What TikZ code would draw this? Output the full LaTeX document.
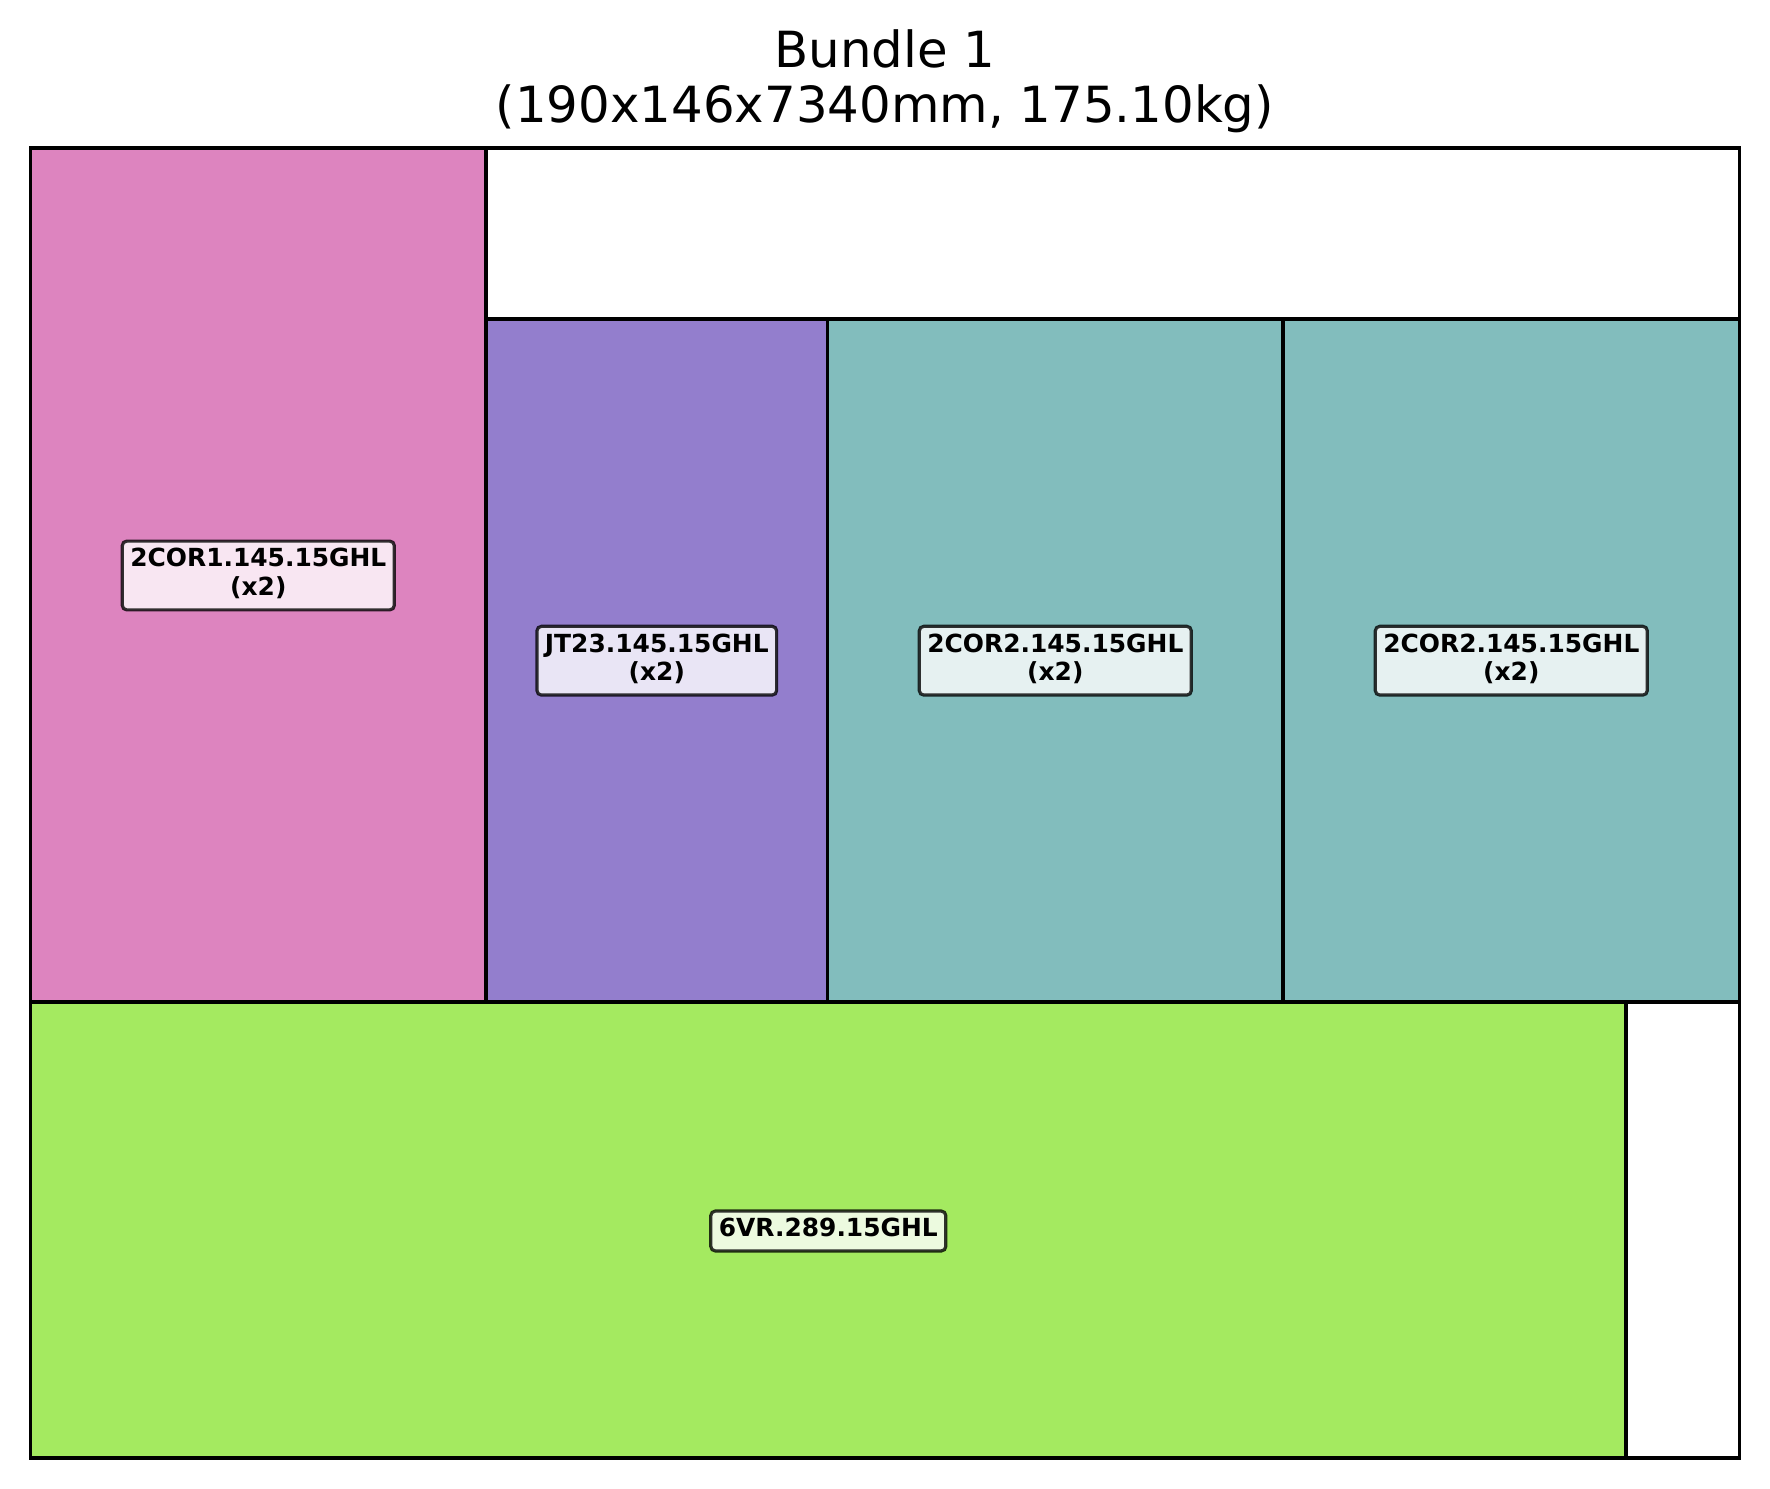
\documentclass[tikz,border=0pt]{standalone}
\usepackage{fontspec}
\setmainfont{DejaVu Sans}
\definecolor{cpink}{HTML}{DD84BF}
\definecolor{cpurple}{HTML}{937ECD}
\definecolor{cteal}{HTML}{82BDBD}
\definecolor{cgreen}{HTML}{A4EA60}
\begin{document}
\begin{tikzpicture}[x=1bp,y=-1bp,
  item/.style={draw=black,line width=3.6bp},
  tag/.style={draw=black,draw opacity=0.8,fill=white,fill opacity=0.8,text opacity=1,
    line width=3.2bp,rounded corners=4.5bp,align=center,inner xsep=8bp,inner ysep=5.5bp,
    font=\fontsize{25}{29}\selectfont\bfseries},
  heading/.style={align=center,inner sep=0pt,font=\fontsize{50}{55}\selectfont}]
  \useasboundingbox (0,0) rectangle (1770,1489);

  % title
  \node[heading,anchor=north] (title) at (885,29.5) {Bundle 1\\(190x146x7340mm, 175.10kg)};

  % bundle outline
  \draw[item] (30.5,148) rectangle (1739.5,1458);

  % packed items
  \draw[item,fill=cpink]   (30.5,148)  rectangle (486,1002);
  \draw[item,fill=cpurple] (486,319)   rectangle (827.5,1002);
  \draw[item,fill=cteal]   (827.5,319) rectangle (1283,1002);
  \draw[item,fill=cteal]   (1283,319)  rectangle (1739.5,1002);
  \draw[item,fill=cgreen]  (30.5,1002) rectangle (1626,1458);

  % item labels
  \node[tag] (lpink)   at (258.3,575.5) {\strut 2COR1.145.15GHL\\\strut (x2)};
  \node[tag] (lpurple) at (656.8,660.7) {\strut JT23.145.15GHL\\\strut (x2)};
  \node[tag] (lteal)   at (1055.3,660.7) {\strut 2COR2.145.15GHL\\\strut (x2)};
  \node[tag] (lteal2)  at (1511.3,660.7) {\strut 2COR2.145.15GHL\\\strut (x2)};
  \node[tag] (lgreen)  at (828.3,1231) {\strut 6VR.289.15GHL};
\end{tikzpicture}
\end{document}
